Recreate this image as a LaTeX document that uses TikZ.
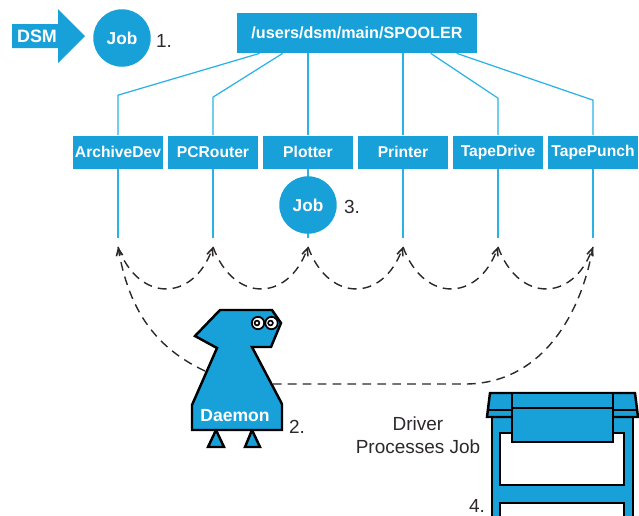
\documentclass[tikz,border=0pt]{standalone}
\usepackage{fontspec}
\setmainfont{Liberation Sans}
\usetikzlibrary{arrows.meta, calc}
\definecolor{spoolblue}{RGB}{24,160,216}
\definecolor{wire}{RGB}{40,178,230}
\definecolor{ink}{RGB}{44,40,44}
\tikzset{
  queue/.style={rectangle, fill=spoolblue, text=white, inner sep=0pt,
    minimum width=1.82cm, minimum height=0.66cm,
    font=\fontsize{8.9}{10}\selectfont\bfseries},
  job/.style={circle, fill=spoolblue, text=white, inner sep=0pt,
    minimum size=1.15cm, font=\fontsize{9.8}{12}\selectfont\bfseries},
  tag/.style={text=ink, font=\fontsize{10.8}{13}\selectfont},
  wire/.style={draw=wire, line width=0.7pt},
  poll/.style={draw=ink, line width=0.8pt, dash pattern=on 5pt off 3.5pt},
  polltip/.style={-{Straight Barb[length=4pt,width=3.6pt,line width=0.9pt]}},
  outline/.style={draw=black, line width=1.4pt, line join=miter, fill=spoolblue}
}
\begin{document}
\begin{tikzpicture}[x=0.02cm, y=0.02cm]
\useasboundingbox (0,0) rectangle (639,-515);

% user hands a job to the spooler
\fill[spoolblue] (12,-24) -- (58,-24) -- (58,-9) -- (85,-36) -- (58,-63)
  -- (58,-48) -- (12,-48) -- cycle;
\node[text=white, font=\fontsize{10.2}{12}\selectfont\bfseries] (dsm) at (37,-36) {DSM};
\node[job] (job1) at (122,-38) {Job};
\node[tag] (n1) at (164,-41) {1.};

% spooler directory and its device queues
\node[rectangle, fill=spoolblue, text=white, minimum width=4.8cm, minimum height=0.8cm,
  font=\fontsize{9.2}{11}\selectfont\bfseries] (spooler) at (357,-33) {/users/dsm/main/SPOOLER};

\foreach \name/\x in {ArchiveDev/118, PCRouter/213, Plotter/308, Printer/403, TapeDrive/498, TapePunch/593}{
  \node[queue] (\name) at (\x,-152) {\name};
  \draw[wire] (\name.south) -- ++(0,-69);
  \coordinate (top-\name) at ($(\name.south)+(0,-78)$);
}

\draw[wire] ($(spooler.south west)+(23,0)$) -- ($(ArchiveDev.north)+(0,40)$) -- (ArchiveDev.north);
\draw[wire] ($(spooler.south west)+(46,0)$) -- ($(PCRouter.north)+(0,38)$) -- (PCRouter.north);
\draw[wire] (spooler.south -| Plotter.north) -- (Plotter.north);
\draw[wire] (spooler.south -| Printer.north) -- (Printer.north);
\draw[wire] ($(spooler.south west)+(194,0)$) -- ($(TapeDrive.north)+(0,37)$) -- (TapeDrive.north);
\draw[wire] ($(spooler.south west)+(220,0)$) -- ($(TapePunch.north)+(0,35)$) -- (TapePunch.north);

\node[job] (job3) at (308,-205) {Job};
\node[tag] (n3) at (352,-207) {3.};

% the daemon
\filldraw[outline] (216,-430) -- (208,-447) -- (224,-447) -- cycle;
\filldraw[outline] (252,-430) -- (245,-447) -- (260,-447) -- cycle;
\filldraw[outline] (220,-310) -- (272,-310) -- (281,-323) -- (271,-347) -- (252,-347)
  -- (282,-404) -- (282,-430) -- (192,-430) -- (192,-405) -- (217,-348)
  -- (195,-336) -- cycle;
\foreach \ex in {258,271.5}{
  \draw[fill=white, line width=1pt] (\ex,-323) circle (6.2);
  \draw[fill=white, line width=0.9pt] (\ex-1,-323) circle (2.4);
}
\node[text=white, font=\fontsize{10}{12}\selectfont\bfseries] (daemon) at (235,-416) {Daemon};
\node[tag] (n2) at (297,-427) {2.};
\coordinate (dL) at (205,-371);
\coordinate (dR) at (273,-384);

% polling loop over the queues
\draw[poll, polltip] (dL) to[out=155, in=-80] (top-ArchiveDev);
\foreach \a/\b in {ArchiveDev/PCRouter, PCRouter/Plotter, Plotter/Printer, Printer/TapeDrive, TapeDrive/TapePunch}
  \draw[poll, polltip] (top-\a) to[out=-70, in=-110, looseness=1.6] (top-\b);
\draw[poll] (top-TapePunch) to[out=-100, in=0] (465,-384) -- (dR);

% the plotter
\filldraw[outline] (492,-410) rectangle (633,-530);
\filldraw[draw=black, line width=1.4pt, fill=white] (500,-433) rectangle (624,-485);
\filldraw[draw=black, line width=1.4pt, fill=white] (500,-503) rectangle (624,-530);
\filldraw[outline] (490,-393) -- (635,-393) -- (638,-417) -- (487,-417) -- cycle;
\draw[line width=1.2pt] (488,-410) -- (637,-410);
\filldraw[outline] (512,-393) rectangle (613,-442);
\draw[line width=1.2pt] (512,-408) -- (613,-408);

\node[tag, align=center] (driver) at (418,-435) {Driver\\[0pt]Processes Job};
\node[tag] (n4) at (477,-506) {4.};
\end{tikzpicture}
\end{document}
